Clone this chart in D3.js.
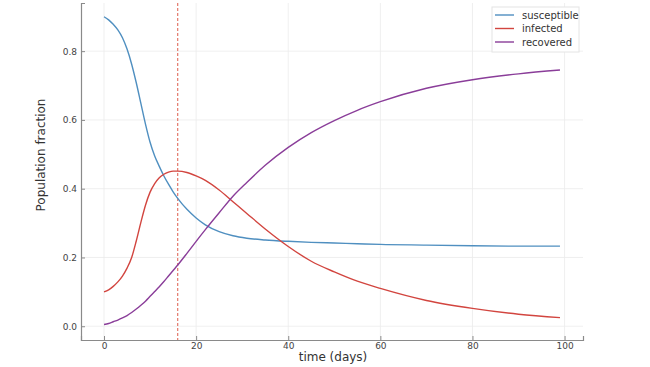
<!DOCTYPE html>
<html>
<head>
<meta charset="utf-8">
<script src="https://cdn.jsdelivr.net/npm/d3@7"></script>
<style>
  body { margin: 0; background: #fff; }
  text { font-family: "DejaVu Sans", sans-serif; }
</style>
</head>
<body>
<div id="chart"></div>
<script>
// values (denser where the curves bend most)
var days = [0, 1, 2, 3, 4, 5, 6, 7, 8, 9, 10, 11, 12, 13, 14, 15, 16, 18, 20, 22, 25, 28, 31, 35, 40, 45, 50, 55, 60, 70, 80, 90, 99];
var susceptible = [0.900, 0.891, 0.878, 0.862, 0.839, 0.806, 0.762, 0.708, 0.648, 0.588, 0.535, 0.495, 0.465, 0.437, 0.413, 0.391, 0.372, 0.340, 0.315, 0.295, 0.275, 0.263, 0.256, 0.251, 0.247, 0.244, 0.242, 0.240, 0.238, 0.236, 0.234, 0.233, 0.233];
var infected = [0.100, 0.106, 0.116, 0.129, 0.146, 0.169, 0.200, 0.248, 0.302, 0.352, 0.390, 0.415, 0.432, 0.442, 0.448, 0.451, 0.451, 0.447, 0.437, 0.424, 0.396, 0.362, 0.328, 0.283, 0.232, 0.189, 0.158, 0.131, 0.110, 0.075, 0.052, 0.035, 0.025];
var recovered = [0.005, 0.008, 0.013, 0.018, 0.024, 0.031, 0.040, 0.050, 0.061, 0.073, 0.087, 0.101, 0.115, 0.130, 0.146, 0.162, 0.178, 0.212, 0.247, 0.281, 0.330, 0.378, 0.418, 0.468, 0.520, 0.563, 0.598, 0.628, 0.653, 0.692, 0.717, 0.734, 0.745];
var peakDay = 16;

var seriesNames = ["susceptible", "infected", "recovered"];
var seriesColors = ["#4f8fc0", "#d2453f", "#8a3d99"];
var xTicks = [0, 20, 40, 60, 80, 100];
var yTicks = [0, 0.2, 0.4, 0.6, 0.8];

function drawChart(id) {
  var width = 650, height = 367;
  var plotLeft = 81, plotRight = 583, plotTop = 3, plotBottom = 340;

  var svg = d3.select(id)
    .append("svg")
    .attr("width", width)
    .attr("height", height);

  var x = d3.scaleLinear().domain([-5, 104]).range([plotLeft, plotRight]);
  var y = d3.scaleLinear().domain([-0.04, 0.94]).range([plotBottom, plotTop]);

  // grid
  svg.append("g")
    .selectAll("line")
    .data(xTicks)
    .enter()
    .append("line")
    .attr("x1", (d) => x(d)).attr("x2", (d) => x(d))
    .attr("y1", plotTop).attr("y2", plotBottom)
    .style("stroke", "#ebebeb")
    .style("stroke-width", "0.8px");

  svg.append("g")
    .selectAll("line")
    .data(yTicks)
    .enter()
    .append("line")
    .attr("x1", plotLeft).attr("x2", plotRight)
    .attr("y1", (d) => y(d)).attr("y2", (d) => y(d))
    .style("stroke", "#ebebeb")
    .style("stroke-width", "0.8px");

  // axes, ticks pointing inward
  var xAxis = svg.append("g")
    .attr("transform", "translate(0," + plotBottom + ")")
    .call(d3.axisBottom(x).tickValues(xTicks).tickSize(-4).tickPadding(3).tickFormat(d3.format("d")));

  var yAxis = svg.append("g")
    .attr("transform", "translate(" + plotLeft + ",0)")
    .call(d3.axisLeft(y).tickValues(yTicks).tickSize(-4).tickPadding(4).tickFormat(d3.format(".1f")));

  [xAxis, yAxis].forEach(function (a) {
    a.select(".domain").style("stroke", "#8a8a8a").style("stroke-width", "1.2px");
    a.selectAll(".tick line").style("stroke", "#8a8a8a");
    a.selectAll(".tick text").style("fill", "#444").style("font-size", "9px");
  });

  // peak marker
  svg.append("line")
    .attr("x1", x(peakDay)).attr("x2", x(peakDay))
    .attr("y1", plotTop).attr("y2", plotBottom)
    .style("stroke", "#e06a5c")
    .style("stroke-width", "1.1px")
    .style("stroke-dasharray", "3,2");

  // curves
  var seriesValues = [susceptible, infected, recovered];
  var line = d3.line()
    .x((d) => x(d[0]))
    .y((d) => y(d[1]))
    .curve(d3.curveMonotoneX);

  svg.append("g")
    .selectAll("path")
    .data(seriesValues)
    .enter()
    .append("path")
    .attr("d", (vals) => line(days.map((d, i) => [d, vals[i]])))
    .style("fill", "none")
    .style("stroke", (d, i) => seriesColors[i])
    .style("stroke-width", "1.4px");

  // axis titles
  svg.append("text")
    .attr("x", 333).attr("y", 361)
    .style("text-anchor", "middle")
    .style("font-size", "12px")
    .style("fill", "#333")
    .text("time (days)");

  svg.append("text")
    .attr("transform", "translate(45,155) rotate(-90)")
    .style("text-anchor", "middle")
    .style("font-size", "12px")
    .style("fill", "#333")
    .text("Population fraction");

  // legend
  var legend = svg.append("g");
  legend.append("rect")
    .attr("x", 492).attr("y", 7)
    .attr("width", 87).attr("height", 45)
    .style("fill", "#fff")
    .style("stroke", "#e4e4e4");

  var entry = legend.selectAll("g")
    .data(seriesNames)
    .enter()
    .append("g")
    .attr("transform", (d, i) => "translate(0," + (15 + i * 13.5) + ")");

  entry.append("line")
    .attr("x1", 495).attr("x2", 514)
    .style("stroke", (d, i) => seriesColors[i])
    .style("stroke-width", "1.4px");

  entry.append("text")
    .attr("x", 522).attr("y", 3.5)
    .style("font-size", "10px")
    .style("fill", "#333")
    .text((d) => d);
}

drawChart("#chart");
</script>
</body>
</html>
